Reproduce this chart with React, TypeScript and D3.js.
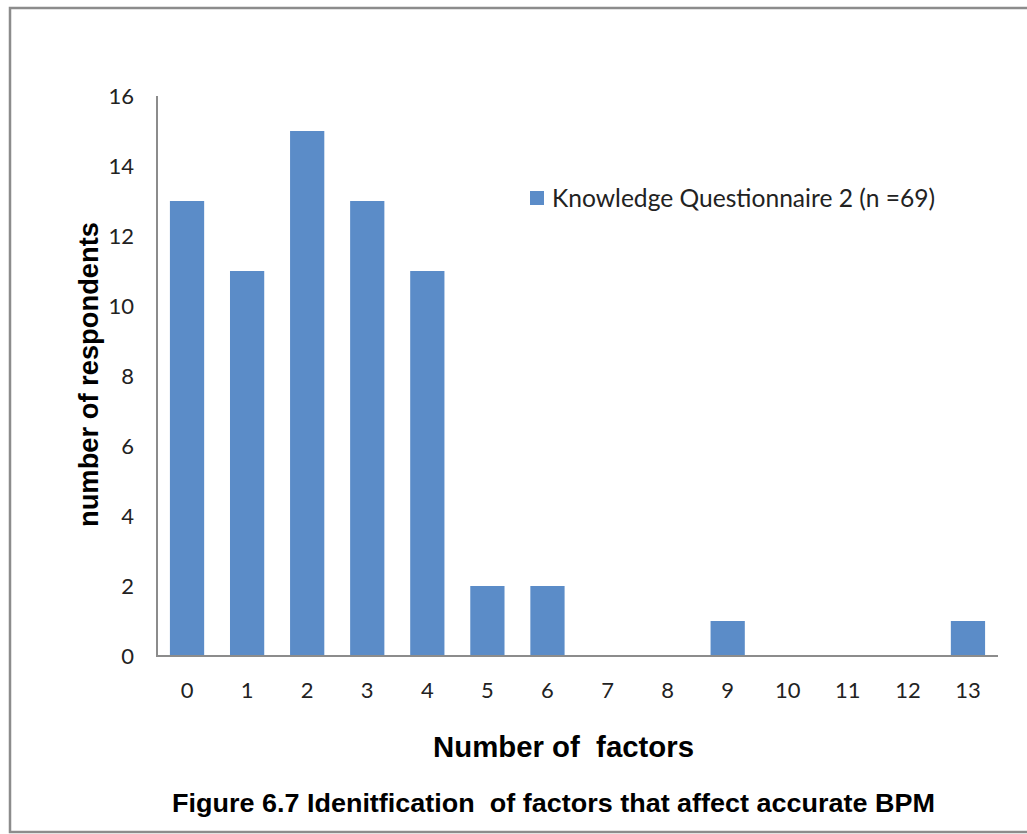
import React, { useEffect, useRef } from "react";
import * as d3 from "d3";

const categories: string[] = ["0", "1", "2", "3", "4", "5", "6", "7", "8", "9", "10", "11", "12", "13"];
const values: number[] = [13, 11, 15, 13, 11, 2, 2, 0, 0, 1, 0, 0, 0, 1];
const yTicks: number[] = [0, 2, 4, 6, 8, 10, 12, 14, 16];
const seriesName = "Knowledge Questionnaire 2 (n =69)";
const xTitle = "Number of  factors";
const yTitle = "number of respondents";
const caption = "Figure 6.7 Idenitfication  of factors that affect accurate BPM";

const W = 1027;
const H = 834;
const BAR = "#5b8cc8";
const AXIS = "#8c8c8c";
const TICKFONT = "Lato, 'Open Sans', sans-serif";
const BOLDFONT = "'Liberation Sans', Arial, sans-serif";

export default function App() {
  const ref = useRef<SVGSVGElement>(null);
  useEffect(() => {
    const svg = d3.select(ref.current);
    svg.selectAll("*").remove();
    const left = 157, right = 998, top = 96, bottom = 656;
    const x = d3.scaleBand<string>().domain(categories).range([left, right]).paddingInner(0.43).paddingOuter(0.215);
    const y = d3.scaleLinear().domain([0, 16]).range([bottom, top]);

    // frame
    svg.append("rect").attr("x", 10).attr("y", 8).attr("width", W + 20).attr("height", 824)
      .attr("fill", "white").attr("stroke", AXIS).attr("stroke-width", 2.5);

    // bars
    svg.append("g").selectAll("rect").data(values).join("rect")
      .attr("x", (_d, i) => x(categories[i])!)
      .attr("y", d => y(d))
      .attr("width", x.bandwidth())
      .attr("height", d => bottom - y(d))
      .attr("fill", BAR);

    // axes lines
    svg.append("line").attr("x1", left).attr("x2", left).attr("y1", top).attr("y2", bottom)
      .attr("stroke", AXIS).attr("stroke-width", 2);
    svg.append("line").attr("x1", left - 1).attr("x2", right).attr("y1", bottom).attr("y2", bottom)
      .attr("stroke", AXIS).attr("stroke-width", 2);

    // y tick labels
    svg.append("g").selectAll("text").data(yTicks).join("text")
      .attr("x", 134).attr("y", d => y(d)).attr("dy", "0.36em")
      .attr("text-anchor", "end").attr("font-family", TICKFONT).attr("font-size", 22)
      .attr("fill", "#222").text(d => String(d));

    // x tick labels
    svg.append("g").selectAll("text").data(categories).join("text")
      .attr("x", d => x(d)! + x.bandwidth() / 2).attr("y", 690).attr("dy", "0.36em")
      .attr("text-anchor", "middle").attr("font-family", TICKFONT).attr("font-size", 22)
      .attr("fill", "#222").text(d => d);

    // axis titles
    svg.append("text").attr("x", 563.5).attr("y", 757)
      .attr("text-anchor", "middle").attr("font-family", BOLDFONT)
      .attr("font-weight", "bold").attr("font-size", 29.5).attr("fill", "#000")
      .attr("textLength", 261).attr("lengthAdjust", "spacingAndGlyphs")
      .style("white-space", "pre").text(xTitle);
    svg.append("text").attr("transform", `translate(98,374.5) rotate(-90)`)
      .attr("text-anchor", "middle").attr("font-family", BOLDFONT)
      .attr("font-weight", "bold").attr("font-size", 27).attr("fill", "#000")
      .attr("textLength", 305).attr("lengthAdjust", "spacingAndGlyphs").text(yTitle);

    // caption
    svg.append("text").attr("x", 553.5).attr("y", 812)
      .attr("text-anchor", "middle").attr("font-family", BOLDFONT)
      .attr("font-weight", "bold").attr("font-size", 26).attr("fill", "#000")
      .attr("textLength", 763).attr("lengthAdjust", "spacingAndGlyphs")
      .style("white-space", "pre").text(caption);

    // legend
    svg.append("rect").attr("x", 530).attr("y", 191).attr("width", 14).attr("height", 14).attr("fill", BAR);
    svg.append("text").attr("x", 552).attr("y", 198).attr("dy", "0.36em")
      .attr("font-family", TICKFONT).attr("font-size", 24.5).attr("fill", "#222")
      .attr("textLength", 383).attr("lengthAdjust", "spacingAndGlyphs").text(seriesName);
  }, []);
  return <svg ref={ref} width={W} height={H} style={{ display: "block", position: "absolute", left: 0, top: 0 }} />;
}
